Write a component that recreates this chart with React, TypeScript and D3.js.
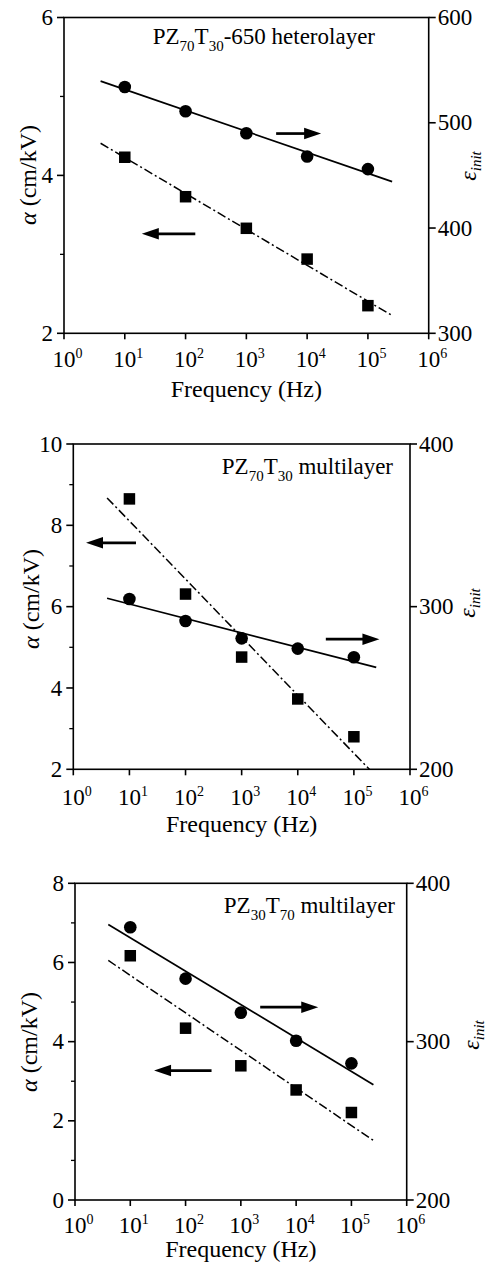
import React from 'react';
import * as d3 from 'd3';

// ---------- data ----------
const freqs = [10, 100, 1000, 10000, 100000];
const xTickExps = [0, 1, 2, 3, 4, 5, 6];
const fitRange = [4, 250000];

const p1Alpha = [4.23, 3.73, 3.33, 2.94, 2.35];
const p1Eps = [534, 511, 490, 468, 456];
const p2Alpha = [8.65, 6.31, 4.76, 3.73, 2.8];
const p2Eps = [304.7, 291.2, 280.5, 274.2, 268.9];
const p3Alpha = [6.17, 4.34, 3.39, 2.78, 2.21];
const p3Eps = [372.2, 339.8, 318.3, 300.6, 286.3];

const p1AlphaTicks = [2, 4, 6];
const p1AlphaMinor = [3, 5];
const p1EpsTicks = [300, 400, 500, 600];
const p2AlphaTicks = [2, 4, 6, 8, 10];
const p2AlphaMinor = [3, 5, 7, 9];
const p2EpsTicks = [200, 300, 400];
const p3AlphaTicks = [0, 2, 4, 6, 8];
const p3AlphaMinor = [1, 3, 5, 7];
const p3EpsTicks = [200, 300, 400];

// arrows: [fromExp, toExp, alphaLevel]
const p1Arrows = [[3.49, 4.23, 4.53], [2.16, 1.28, 3.26]];
const p2Arrows = [[1.117, 0.226, 7.57], [4.5, 5.455, 5.2]];
const p3Arrows = [[3.35, 4.4, 4.87], [2.47, 1.43, 3.27]];

const p1Title = ['PZ', '70', 'T', '30', '-650 heterolayer'];
const p2Title = ['PZ', '70', 'T', '30', ' multilayer'];
const p3Title = ['PZ', '30', 'T', '70', ' multilayer'];

const xLabel = 'Frequency (Hz)';

const FONT = '"Liberation Serif", "Times New Roman", Times, serif';

type Cfg = {
  id: string;
  alpha: number[]; eps: number[];
  aDom: [number, number]; eDom: [number, number];
  aTicks: number[]; aMinor: number[]; eTicks: number[];
  arrows: number[][];
  title: string[];
  box: { l: number; r: number; t: number; b: number };
  titleX: number; titleY: number;
  tickLabelY: number; xLabelY: number;
  leftLabelX: number; leftLabelY: number;
  rightLabelX: number; rightLabelY: number;
};

const panels: Cfg[] = [
  {
    id: 'p1', alpha: p1Alpha, eps: p1Eps, aDom: [2, 6], eDom: [300, 600],
    aTicks: p1AlphaTicks, aMinor: p1AlphaMinor, eTicks: p1EpsTicks,
    arrows: p1Arrows, title: p1Title,
    box: { l: 64, r: 428.7, t: 17.5, b: 333.3 },
    titleX: 375, titleY: 44, tickLabelY: 367, xLabelY: 397,
    leftLabelX: 36, leftLabelY: 175, rightLabelX: 476, rightLabelY: 166,
  },
  {
    id: 'p2', alpha: p2Alpha, eps: p2Eps, aDom: [2, 10], eDom: [200, 400],
    aTicks: p2AlphaTicks, aMinor: p2AlphaMinor, eTicks: p2EpsTicks,
    arrows: p2Arrows, title: p2Title,
    box: { l: 73.3, r: 410, t: 444, b: 769.3 },
    titleX: 393, titleY: 474, tickLabelY: 805, xLabelY: 832,
    leftLabelX: 39, leftLabelY: 599, rightLabelX: 475, rightLabelY: 603,
  },
  {
    id: 'p3', alpha: p3Alpha, eps: p3Eps, aDom: [0, 8], eDom: [200, 400],
    aTicks: p3AlphaTicks, aMinor: p3AlphaMinor, eTicks: p3EpsTicks,
    arrows: p3Arrows, title: p3Title,
    box: { l: 75, r: 406.7, t: 883.3, b: 1200 },
    titleX: 395, titleY: 913, tickLabelY: 1233, xLabelY: 1257,
    leftLabelX: 37, leftLabelY: 1042, rightLabelX: 479, rightLabelY: 1035,
  },
];

function fit(xs: number[], ys: number[]) {
  const mx = d3.mean(xs)!;
  const my = d3.mean(ys)!;
  let sxy = 0, sxx = 0;
  xs.forEach((x, i) => { sxy += (x - mx) * (ys[i] - my); sxx += (x - mx) ** 2; });
  const k = sxy / sxx;
  return (x: number) => my + k * (x - mx);
}

function Panel({ c }: { c: Cfg }) {
  const { l, r, t, b } = c.box;
  const x = d3.scaleLog().domain([1, 1e6]).range([l, r]);
  const ya = d3.scaleLinear().domain(c.aDom).range([b, t]);
  const ye = d3.scaleLinear().domain(c.eDom).range([b, t]);
  const logs = freqs.map(f => Math.log10(f));
  const fa = fit(logs, c.alpha);
  const fe = fit(logs, c.eps);
  const lineA = d3.line<number>().x(f => x(f)).y(f => ya(fa(Math.log10(f))));
  const lineE = d3.line<number>().x(f => x(f)).y(f => ye(fe(Math.log10(f))));
  const sq = 11.5;
  const tickFs = 23;
  return (
    <g>
      <defs>
        <clipPath id={'clip-' + c.id}>
          <rect x={l} y={t} width={r - l} height={b - t} />
        </clipPath>
      </defs>
      <g clipPath={`url(#clip-${c.id})`}>
        <path d={lineE(fitRange)!} fill="none" stroke="#000" strokeWidth={1.7} />
        <path d={lineA(fitRange)!} fill="none" stroke="#000" strokeWidth={1.5} strokeDasharray="9,3,2,3" />
      </g>
      {freqs.map((f, i) => (
        <circle key={'c' + i} cx={x(f)} cy={ye(c.eps[i])} r={6.3} fill="#000" />
      ))}
      {freqs.map((f, i) => (
        <rect key={'s' + i} x={x(f) - sq / 2} y={ya(c.alpha[i]) - sq / 2} width={sq} height={sq} fill="#000" />
      ))}
      {c.arrows.map((a, i) => {
        const x1 = x(10 ** a[0]);
        const x2 = x(10 ** a[1]);
        const y = ya(a[2]);
        const dir = x2 > x1 ? 1 : -1;
        const hl = 17, hw = 5.8;
        const xb = x2 - dir * hl;
        return (
          <g key={'a' + i}>
            <line x1={x1} y1={y} x2={xb + dir} y2={y} stroke="#000" strokeWidth={2.7} />
            <path d={`M${x2},${y}L${xb},${y - hw}L${xb},${y + hw}Z`} fill="#000" />
          </g>
        );
      })}
      <rect x={l} y={t} width={r - l} height={b - t} fill="none" stroke="#000" strokeWidth={1.6} />
      {xTickExps.map(e => (
        <g key={'xt' + e}>
          <line x1={x(10 ** e)} x2={x(10 ** e)} y1={b} y2={b + 6} stroke="#000" strokeWidth={1.6} />
          <text x={x(10 ** e)} y={c.tickLabelY} fontSize={tickFs} textAnchor="middle" fontFamily={FONT}>10</text>
          <text x={x(10 ** e) + 11.5} y={c.tickLabelY - 9.5} fontSize={14} fontFamily={FONT}>{e}</text>
        </g>
      ))}
      {c.aTicks.map(v => (
        <g key={'at' + v}>
          <line x1={l - 7} x2={l} y1={ya(v)} y2={ya(v)} stroke="#000" strokeWidth={1.6} />
          <text x={l - 11} y={ya(v)} dy="0.33em" fontSize={tickFs} textAnchor="end" fontFamily={FONT}>{v}</text>
        </g>
      ))}
      {c.aMinor.map(v => (
        <line key={'am' + v} x1={l - 4} x2={l} y1={ya(v)} y2={ya(v)} stroke="#000" strokeWidth={1.3} />
      ))}
      {c.eTicks.map(v => (
        <g key={'et' + v}>
          <line x1={r} x2={r + 7} y1={ye(v)} y2={ye(v)} stroke="#000" strokeWidth={1.6} />
          <text x={r + 9} y={ye(v)} dy="0.33em" fontSize={tickFs} textAnchor="start" fontFamily={FONT}>{v}</text>
        </g>
      ))}
      <text x={c.titleX} y={c.titleY} fontSize={23} textAnchor="end" fontFamily={FONT}>
        <tspan>{c.title[0]}</tspan>
        <tspan fontSize={15} dy={7}>{c.title[1]}</tspan>
        <tspan dy={-7}>{c.title[2]}</tspan>
        <tspan fontSize={15} dy={7}>{c.title[3]}</tspan>
        <tspan dy={-7}>{c.title[4]}</tspan>
      </text>
      <text x={(l + r) / 2} y={c.xLabelY} fontSize={24} textAnchor="middle" fontFamily={FONT}>{xLabel}</text>
      <text transform={`translate(${c.leftLabelX},${c.leftLabelY}) rotate(-90)`} fontSize={24} textAnchor="middle" fontFamily={FONT}>
        <tspan fontStyle="italic">α</tspan>
        <tspan> (cm/kV)</tspan>
      </text>
      <text transform={`translate(${c.rightLabelX},${c.rightLabelY}) rotate(-90)`} fontSize={24} textAnchor="middle" fontFamily={FONT} fontStyle="italic">
        <tspan>ε</tspan>
        <tspan fontSize={15} dy={5}>init</tspan>
      </text>
    </g>
  );
}

export default function App() {
  return (
    <svg width={492} height={1264} viewBox="0 0 492 1264" style={{ position: 'absolute', left: 0, top: 0, background: '#fff' }}>
      <rect x={0} y={0} width={492} height={1264} fill="#fff" />
      {panels.map(c => <Panel key={c.id} c={c} />)}
    </svg>
  );
}
